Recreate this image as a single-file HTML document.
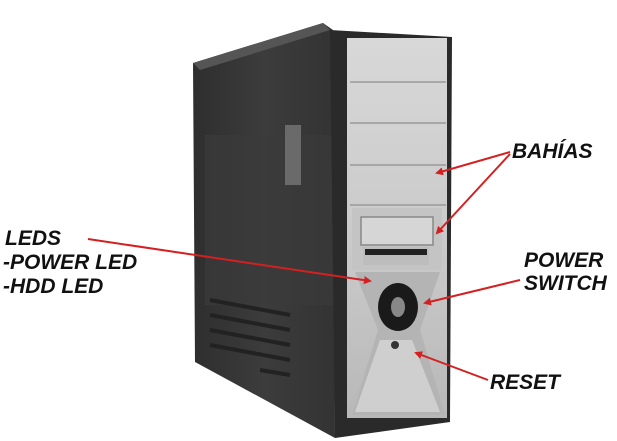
<!DOCTYPE html>
<html><head><meta charset="utf-8"><style>
html,body{margin:0;padding:0;background:#fff;}
svg{display:block}
text{font-family:"Liberation Sans",sans-serif;font-weight:bold;font-style:italic;font-size:21px;fill:#111;}
</style></head><body>
<svg width="617" height="441" viewBox="0 0 617 441" xmlns="http://www.w3.org/2000/svg">
<defs>
<linearGradient id="side" x1="0" y1="0" x2="1" y2="0">
<stop offset="0" stop-color="#2e2e2e"/><stop offset="0.5" stop-color="#3c3c3c"/><stop offset="1" stop-color="#333"/>
</linearGradient>
<linearGradient id="front" x1="0" y1="0" x2="0" y2="1">
<stop offset="0" stop-color="#d8d8d8"/><stop offset="0.6" stop-color="#c8c8c8"/><stop offset="1" stop-color="#b8b8b8"/>
</linearGradient>
<marker id="ah" markerWidth="8" markerHeight="8" refX="6" refY="4" orient="auto" markerUnits="userSpaceOnUse">
<path d="M0,0 L8,4 L0,8 z" fill="#d42020"/>
</marker>
</defs>
<polygon points="193,63 323,23 333,30 335,438 195,362" fill="url(#side)"/>
<polygon points="193,63 323,23 330,30 200,70" fill="#555"/>
<rect x="205" y="135" width="130" height="170" fill="#3a3a3a" opacity="0.7"/>
<rect x="285" y="125" width="16" height="60" fill="#6a6a6a"/>
<g stroke="#222" stroke-width="4">
<line x1="210" y1="300" x2="290" y2="315"/><line x1="210" y1="315" x2="290" y2="330"/>
<line x1="210" y1="330" x2="290" y2="345"/><line x1="210" y1="345" x2="290" y2="360"/>
<line x1="260" y1="370" x2="290" y2="375"/>
</g>
<polygon points="330,30 452,37 450,422 335,438" fill="#2a2a2a"/>
<rect x="347" y="38" width="100" height="380" fill="url(#front)"/>
<g stroke="#9a9a9a" stroke-width="1.5">
<line x1="350" y1="82" x2="446" y2="82"/><line x1="350" y1="123" x2="446" y2="123"/>
<line x1="350" y1="165" x2="446" y2="165"/><line x1="350" y1="205" x2="446" y2="205"/>
</g>
<rect x="352" y="208" width="90" height="62" fill="#c4c4c4"/>
<rect x="361" y="217" width="72" height="28" fill="#d6d6d6" stroke="#888" stroke-width="1.5"/>
<rect x="363" y="247" width="66" height="18" fill="#bdbdbd"/>
<rect x="365" y="249" width="62" height="6" fill="#222"/>
<path d="M355,272 L440,272 L420,330 L445,415 L352,415 L378,330 z" fill="#b4b4b4"/>
<path d="M380,340 L412,340 L440,412 L355,412 z" fill="#cfcfcf"/>
<ellipse cx="398" cy="307" rx="20" ry="24" fill="#1a1a1a"/>
<ellipse cx="398" cy="307" rx="7" ry="10" fill="#888"/>
<circle cx="395" cy="345" r="4" fill="#333"/>
<g stroke="#d42020" stroke-width="2" fill="none" marker-end="url(#ah)">
<line x1="510" y1="152" x2="437" y2="173"/>
<line x1="510" y1="154" x2="437" y2="233"/>
<line x1="88" y1="239" x2="370" y2="281"/>
<line x1="520" y1="280" x2="425" y2="303"/>
<line x1="488" y1="380" x2="416" y2="353"/>
</g>
<text x="512" y="158">BAHÍAS</text>
<text x="5" y="245">LEDS</text>
<text x="3" y="269">-POWER LED</text>
<text x="3" y="293">-HDD LED</text>
<text x="524" y="267">POWER</text>
<text x="524" y="290">SWITCH</text>
<text x="490" y="389">RESET</text>
</svg>
</body></html>
